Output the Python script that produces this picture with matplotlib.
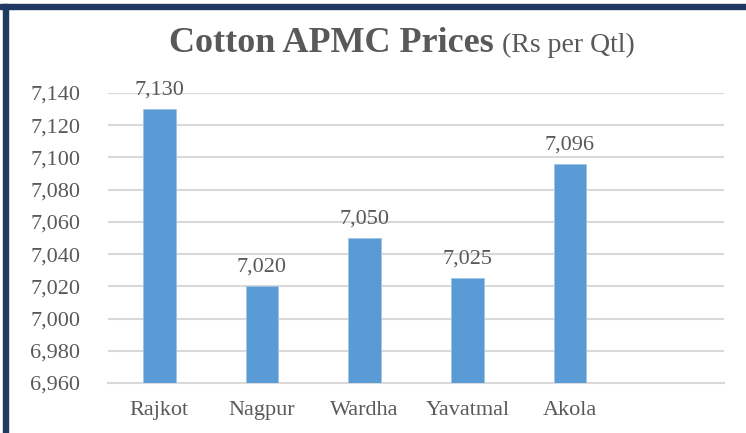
import numpy as np
import matplotlib.pyplot as plt
from matplotlib.patches import Rectangle

# datos
markets = ["Rajkot", "Nagpur", "Wardha", "Yavatmal", "Akola", ""]
prices = [7130, 7020, 7050, 7025, 7096]
yticks = [6960, 6980, 7000, 7020, 7040, 7060, 7080, 7100, 7120, 7140]

plt.rcParams['font.family'] = ['Liberation Serif', 'DejaVu Serif']
gray = '#595959'

fig = plt.figure(figsize=(7.46, 4.33), dpi=100)
ax = fig.add_axes([108/746, 1-383/433, (724-108)/746, (383-93)/433])

x = np.arange(len(prices))
bars = ax.bar(x, [p - yticks[0] for p in prices], bottom=yticks[0], width=0.32,
              color='#5B9BD5', edgecolor='#9DC3E6', linewidth=0.6, zorder=3)

for xi, p in zip(x, prices):
    ax.annotate(f"{p:,}", (xi, p), xytext=(0, 7), textcoords='offset points',
                ha='center', va='bottom', fontsize=16, color=gray)

ax.set_xlim(-0.5, len(markets) - 0.5)
ax.set_xticks(np.arange(len(markets)))
ax.set_xticklabels(markets, fontsize=16, color=gray)
ax.set_ylim(yticks[0], yticks[-1])
ax.set_yticks(yticks)
ax.set_yticklabels([f"{t:,}" for t in yticks], fontsize=16, color=gray)
ax.tick_params(axis='both', length=0)
ax.tick_params(axis='y', pad=20)
ax.tick_params(axis='x', pad=13)
ax.grid(axis='y', color='#D9D9D9', linewidth=1.5, zorder=0)
for s in ['top', 'right', 'left']:
    ax.spines[s].set_visible(False)
ax.spines['bottom'].set_color('#D9D9D9')
ax.spines['bottom'].set_linewidth(1.5)

# titulo en dos partes
fig.text(494/746, 1-51.7/433, "Cotton APMC Prices", ha='right', va='baseline',
         fontsize=26, fontweight='bold', color=gray)
fig.text(502/746, 1-51.7/433, "(Rs per Qtl)", ha='left', va='baseline',
         fontsize=20, color=gray)

# borde
navy = '#1F3864'
fig.patches.append(Rectangle((0, 1-9/433), 1, 5/433, transform=fig.transFigure,
                             color=navy, zorder=10))
fig.patches.append(Rectangle((3/746, 0), 5/746, 1-4/433, transform=fig.transFigure,
                             color=navy, zorder=10))

fig.savefig("out.png", dpi=100)
plt.close()
